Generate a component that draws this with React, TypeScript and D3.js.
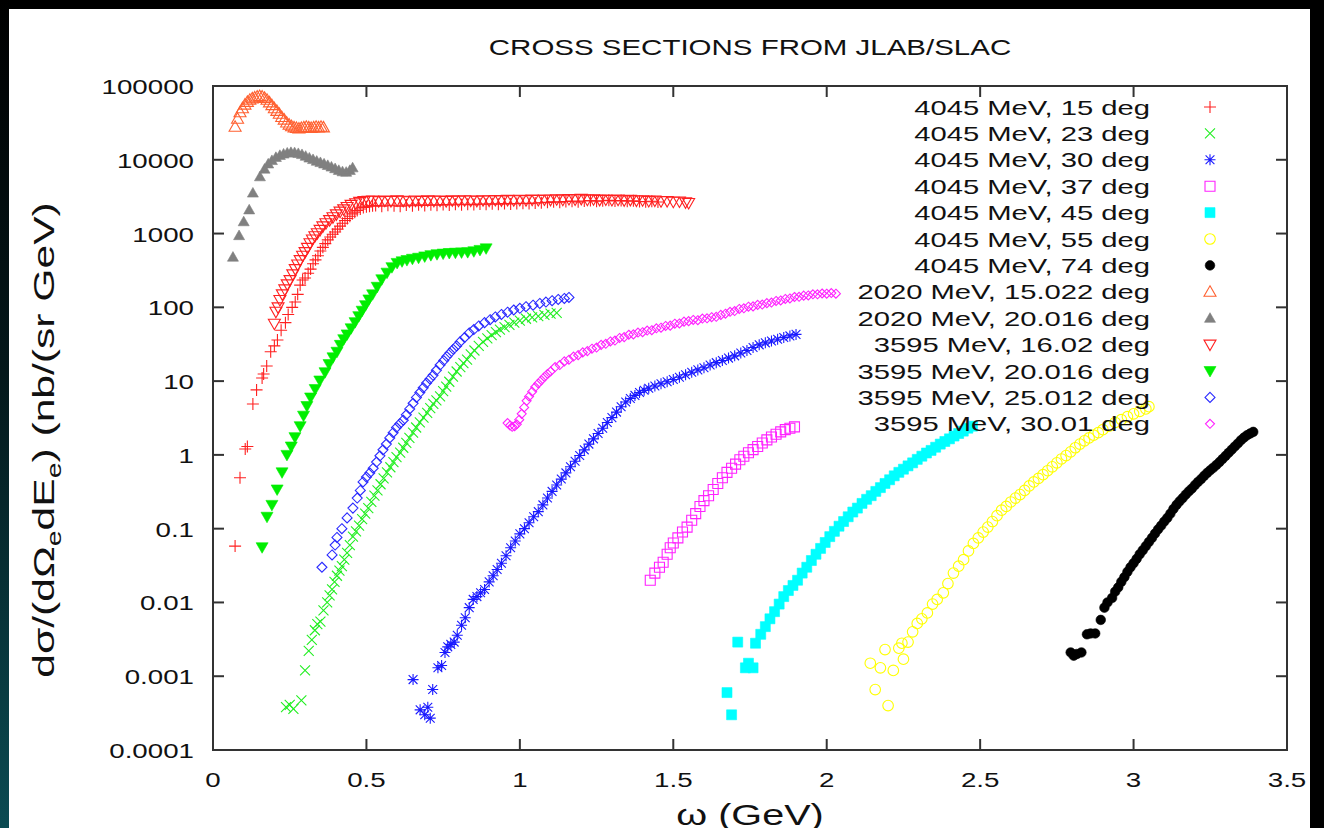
import React from "react";
import * as d3 from "d3";

type Pt = [number, number];

// ---- data: [omega (GeV), d2sigma/dOmega dE (nb/(sr GeV))] ----
const e4045_15: Pt[] = [
  [0.072, 0.058], [0.088, 0.49], [0.105, 1.2], [0.112, 1.3], [0.13, 4.9], [0.142, 7.6], [0.16, 11], [0.165, 12.5],
  [0.175, 16], [0.188, 25], [0.2, 30], [0.21, 36], [0.222, 49], [0.236, 62], [0.245, 80], [0.258, 100], [0.268, 118],
  [0.276, 150], [0.284, 200], [0.292, 235], [0.3, 250], [0.31, 290], [0.318, 330], [0.326, 390], [0.334, 440],
  [0.342, 500], [0.35, 580], [0.358, 650], [0.366, 730], [0.374, 820], [0.382, 900], [0.39, 980], [0.398, 1050],
  [0.406, 1150], [0.414, 1260], [0.422, 1380], [0.43, 1500], [0.438, 1600], [0.446, 1720], [0.454, 1850], [0.462, 1950],
  [0.47, 2050], [0.48, 2150], [0.49, 2250], [0.5, 2300], [0.51, 2350], [0.52, 2380], [0.53, 2400], [0.55, 2350],
  [0.57, 2420], [0.59, 2380], [0.61, 2350], [0.63, 2430], [0.65, 2380], [0.67, 2450], [0.69, 2400], [0.71, 2460],
  [0.73, 2420], [0.75, 2480], [0.77, 2440], [0.79, 2500], [0.81, 2460], [0.83, 2500], [0.85, 2470], [0.87, 2520],
  [0.89, 2490], [0.91, 2540], [0.93, 2500], [0.95, 2550], [0.97, 2520], [0.99, 2560], [1.01, 2580], [1.03, 2550],
  [1.05, 2600], [1.07, 2620], [1.09, 2650], [1.11, 2700], [1.13, 2660], [1.15, 2720], [1.17, 2750], [1.19, 2690],
  [1.21, 2760], [1.23, 2800], [1.25, 2740], [1.27, 2780], [1.29, 2820], [1.31, 2760], [1.33, 2800], [1.35, 2750],
  [1.37, 2780], [1.39, 2720], [1.41, 2700], [1.43, 2740], [1.45, 2680],
];

const e4045_23: Pt[] = [
  [0.238, 0.00038], [0.25, 0.00041], [0.262, 0.00036], [0.288, 0.00047], [0.3, 0.0012], [0.312, 0.0022], [0.322, 0.0031],
  [0.332, 0.0042], [0.34, 0.0051], [0.35, 0.0055], [0.36, 0.0078], [0.372, 0.01], [0.38, 0.0125], [0.388, 0.015],
  [0.396, 0.019], [0.404, 0.023], [0.412, 0.027], [0.42, 0.031], [0.428, 0.038], [0.437, 0.047], [0.446, 0.06],
  [0.456, 0.078], [0.466, 0.092], [0.476, 0.11], [0.486, 0.135], [0.496, 0.16], [0.506, 0.19], [0.516, 0.23],
  [0.526, 0.28], [0.536, 0.33], [0.546, 0.4], [0.556, 0.48], [0.567, 0.58], [0.578, 0.68], [0.588, 0.8], [0.598, 0.93],
  [0.61, 1.07], [0.62, 1.25], [0.63, 1.45], [0.64, 1.7], [0.652, 2.0], [0.662, 2.35], [0.674, 2.75], [0.686, 3.2],
  [0.698, 3.7], [0.708, 4.3], [0.718, 4.9], [0.728, 5.5], [0.74, 6.2], [0.75, 7.3], [0.76, 8.4], [0.77, 9.8],
  [0.782, 11.5], [0.794, 13.5], [0.806, 15.5], [0.816, 17.5], [0.828, 19.5], [0.84, 23], [0.852, 26], [0.866, 30],
  [0.88, 34], [0.894, 38], [0.908, 42], [0.922, 46], [0.935, 50], [0.95, 54], [0.966, 58], [0.982, 62], [1.0, 66],
  [1.02, 70], [1.04, 73], [1.06, 76], [1.08, 79], [1.1, 82], [1.12, 84],
];

const e4045_30: Pt[] = [
  [0.652, 0.0009], [0.675, 0.00035], [0.69, 0.0003], [0.7, 0.00038], [0.708, 0.00027], [0.716, 0.00066], [0.733, 0.0013],
  [0.745, 0.0014], [0.756, 0.0021], [0.765, 0.0025], [0.775, 0.0027], [0.786, 0.0029], [0.796, 0.0036], [0.81, 0.0049],
  [0.822, 0.0062], [0.835, 0.0085], [0.848, 0.011], [0.86, 0.012], [0.872, 0.0135], [0.885, 0.015], [0.9, 0.019],
  [0.913, 0.023], [0.926, 0.028], [0.94, 0.034], [0.955, 0.043], [0.97, 0.055], [0.985, 0.068], [1.0, 0.085],
  [1.015, 0.1], [1.03, 0.12], [1.045, 0.145], [1.06, 0.17], [1.075, 0.21], [1.09, 0.26], [1.105, 0.32], [1.12, 0.39],
  [1.135, 0.47], [1.15, 0.57], [1.165, 0.69], [1.18, 0.82], [1.195, 0.98], [1.21, 1.17], [1.225, 1.4], [1.24, 1.65],
  [1.255, 1.95], [1.27, 2.3], [1.285, 2.75], [1.3, 3.2], [1.315, 3.8], [1.33, 4.5], [1.345, 5.2], [1.36, 5.8],
  [1.375, 6.4], [1.39, 7.0], [1.405, 7.5], [1.42, 8.0], [1.44, 8.6], [1.46, 9.2], [1.48, 9.8], [1.5, 10.5],
  [1.52, 11.3], [1.54, 12.2], [1.56, 13.2], [1.58, 14.2], [1.6, 15.2], [1.62, 16.5], [1.64, 17.8], [1.66, 19],
  [1.68, 20.5], [1.7, 22], [1.72, 24], [1.74, 26], [1.76, 28.5], [1.78, 31], [1.8, 33], [1.82, 35], [1.84, 37],
  [1.86, 39], [1.88, 41], [1.9, 43],
];

const e4045_37: Pt[] = [
  [1.425, 0.02], [1.44, 0.025], [1.455, 0.03], [1.467, 0.035], [1.48, 0.045], [1.49, 0.055], [1.5, 0.064], [1.515, 0.075],
  [1.53, 0.09], [1.545, 0.105], [1.56, 0.13], [1.573, 0.16], [1.587, 0.2], [1.6, 0.24], [1.615, 0.28], [1.63, 0.34],
  [1.645, 0.41], [1.66, 0.49], [1.675, 0.58], [1.69, 0.66], [1.703, 0.75], [1.717, 0.86], [1.73, 0.96], [1.745, 1.07],
  [1.76, 1.18], [1.775, 1.3], [1.79, 1.45], [1.805, 1.6], [1.82, 1.75], [1.835, 1.9], [1.85, 2.05], [1.865, 2.2],
  [1.88, 2.3], [1.895, 2.4],
];

const e4045_45: Pt[] = [
  [1.69, 0.0003], [1.675, 0.0006], [1.71, 0.0029], [1.735, 0.0013], [1.745, 0.0015], [1.76, 0.0013], [1.768, 0.0028],
  [1.785, 0.0037], [1.8, 0.0047], [1.815, 0.006], [1.83, 0.0075], [1.845, 0.0095], [1.86, 0.012], [1.875, 0.0145],
  [1.89, 0.017], [1.905, 0.02], [1.92, 0.025], [1.935, 0.03], [1.95, 0.037], [1.965, 0.045], [1.98, 0.054],
  [1.995, 0.065], [2.01, 0.078], [2.025, 0.092], [2.04, 0.108], [2.055, 0.125], [2.07, 0.145], [2.085, 0.168],
  [2.1, 0.19], [2.115, 0.22], [2.13, 0.25], [2.145, 0.28], [2.16, 0.32], [2.175, 0.36], [2.19, 0.41], [2.205, 0.46],
  [2.22, 0.52], [2.235, 0.58], [2.25, 0.64], [2.265, 0.71], [2.28, 0.78], [2.295, 0.87], [2.31, 0.96], [2.325, 1.06],
  [2.34, 1.15], [2.355, 1.27], [2.37, 1.4], [2.385, 1.52], [2.4, 1.65], [2.415, 1.8], [2.43, 1.95], [2.445, 2.1],
  [2.46, 2.3], [2.475, 2.45],
];

const e4045_55: Pt[] = [
  [2.2, 0.0004], [2.158, 0.00066], [2.142, 0.0015], [2.175, 0.0013], [2.217, 0.0012], [2.19, 0.0023], [2.235, 0.0024],
  [2.25, 0.0017], [2.245, 0.0028], [2.265, 0.0029], [2.28, 0.004], [2.295, 0.0052], [2.31, 0.006], [2.328, 0.0072],
  [2.345, 0.0095], [2.36, 0.011], [2.38, 0.0135], [2.395, 0.018], [2.413, 0.025], [2.43, 0.031], [2.446, 0.038],
  [2.462, 0.05], [2.478, 0.063], [2.494, 0.075], [2.51, 0.09], [2.525, 0.105], [2.54, 0.125], [2.555, 0.15],
  [2.57, 0.178], [2.585, 0.2], [2.6, 0.23], [2.615, 0.26], [2.63, 0.29], [2.645, 0.33], [2.66, 0.38], [2.675, 0.43],
  [2.69, 0.48], [2.705, 0.54], [2.72, 0.61], [2.735, 0.69], [2.75, 0.78], [2.765, 0.88], [2.78, 0.98], [2.795, 1.1],
  [2.81, 1.25], [2.825, 1.4], [2.84, 1.55], [2.855, 1.7], [2.87, 1.85], [2.885, 2.0], [2.9, 2.2], [2.92, 2.45],
  [2.94, 2.75], [2.96, 3.0], [2.98, 3.3], [3.0, 3.6], [3.02, 3.9], [3.04, 4.2], [3.05, 4.5],
];

const e4045_74: Pt[] = [
  [2.795, 0.0021], [2.805, 0.0019], [2.815, 0.002], [2.83, 0.0021], [2.848, 0.0037], [2.86, 0.0038], [2.875, 0.0038],
  [2.893, 0.0058], [2.905, 0.0085], [2.915, 0.01], [2.93, 0.0115], [2.94, 0.014], [2.95, 0.016], [2.96, 0.019],
  [2.97, 0.022], [2.98, 0.026], [2.99, 0.03], [3.0, 0.034], [3.01, 0.039], [3.02, 0.045], [3.03, 0.051], [3.04, 0.058],
  [3.05, 0.066], [3.06, 0.075], [3.07, 0.086], [3.08, 0.098], [3.09, 0.11], [3.1, 0.125], [3.11, 0.14], [3.12, 0.16],
  [3.13, 0.185], [3.14, 0.21], [3.15, 0.235], [3.16, 0.26], [3.17, 0.29], [3.18, 0.32], [3.19, 0.35], [3.2, 0.39],
  [3.21, 0.43], [3.22, 0.47], [3.23, 0.52], [3.24, 0.57], [3.25, 0.62], [3.26, 0.67], [3.27, 0.73], [3.28, 0.8],
  [3.29, 0.88], [3.3, 0.97], [3.31, 1.07], [3.32, 1.18], [3.33, 1.3], [3.34, 1.43], [3.35, 1.58], [3.36, 1.72],
  [3.37, 1.85], [3.38, 1.95], [3.39, 2.05],
];

const e2020_15022: Pt[] = [
  [0.072, 28000], [0.08, 36000], [0.088, 44000], [0.096, 50000], [0.104, 56000], [0.112, 61000], [0.12, 65000],
  [0.128, 68000], [0.136, 70000], [0.144, 72000], [0.152, 73000], [0.16, 72000], [0.168, 69000], [0.176, 65000],
  [0.184, 60000], [0.192, 55000], [0.2, 50000], [0.208, 46000], [0.216, 42000], [0.224, 38000], [0.232, 35000],
  [0.24, 32000], [0.248, 30000], [0.256, 28500], [0.264, 27500], [0.272, 27000], [0.28, 26500], [0.288, 27000],
  [0.296, 27500], [0.304, 28000], [0.312, 27500], [0.32, 27000], [0.328, 27500], [0.336, 28000], [0.344, 27500],
  [0.352, 28000], [0.36, 27500],
];

const e2020_20016: Pt[] = [
  [0.065, 480], [0.085, 940], [0.1, 1450], [0.118, 2100], [0.13, 3550], [0.153, 5900], [0.168, 7500], [0.18, 8800],
  [0.192, 9800], [0.205, 10800], [0.218, 11500], [0.23, 12000], [0.242, 12400], [0.254, 12600], [0.266, 12500],
  [0.278, 12200], [0.29, 11800], [0.302, 11200], [0.314, 10600], [0.326, 10100], [0.338, 9600], [0.35, 9200],
  [0.362, 8800], [0.374, 8400], [0.386, 8000], [0.398, 7600], [0.41, 7200], [0.422, 6900], [0.434, 6800],
  [0.446, 7200], [0.455, 7800],
];

const e3595_1602: Pt[] = [
  [0.2, 60], [0.205, 87], [0.212, 100], [0.218, 126], [0.226, 150], [0.234, 175], [0.242, 205], [0.251, 234],
  [0.26, 280], [0.268, 330], [0.276, 380], [0.284, 437], [0.292, 500], [0.3, 560], [0.308, 640], [0.316, 740],
  [0.324, 830], [0.332, 920], [0.34, 1010], [0.349, 1120], [0.358, 1250], [0.368, 1380], [0.38, 1520], [0.391, 1660],
  [0.402, 1820], [0.414, 1980], [0.426, 2130], [0.437, 2290], [0.45, 2450], [0.465, 2580], [0.478, 2690],
  [0.492, 2750], [0.506, 2780], [0.52, 2800], [0.54, 2750], [0.56, 2800], [0.58, 2760], [0.6, 2820], [0.62, 2780],
  [0.64, 2740], [0.66, 2800], [0.68, 2760], [0.7, 2820], [0.72, 2780], [0.74, 2800], [0.76, 2760], [0.78, 2820],
  [0.8, 2790], [0.82, 2830], [0.84, 2800], [0.86, 2780], [0.88, 2830], [0.9, 2800], [0.92, 2850], [0.94, 2820],
  [0.96, 2860], [0.98, 2830], [1.0, 2870], [1.02, 2840], [1.04, 2880], [1.06, 2850], [1.08, 2900], [1.1, 2870],
  [1.12, 2920], [1.14, 2880], [1.16, 2940], [1.18, 2900], [1.2, 2950], [1.22, 2880], [1.24, 2920], [1.26, 2860],
  [1.28, 2900], [1.3, 2850], [1.32, 2880], [1.34, 2820], [1.36, 2860], [1.38, 2800], [1.4, 2830], [1.42, 2770],
  [1.44, 2800], [1.46, 2740], [1.48, 2760], [1.5, 2700], [1.52, 2720], [1.54, 2650], [1.55, 2600],
];

const e3595_20016: Pt[] = [
  [0.16, 0.056], [0.176, 0.145], [0.192, 0.21], [0.209, 0.34], [0.225, 0.58], [0.241, 1.0], [0.255, 1.3],
  [0.267, 1.74], [0.284, 2.45], [0.295, 3.4], [0.306, 4.6], [0.318, 6.0], [0.333, 7.8], [0.348, 10.2], [0.365, 13.2],
  [0.378, 17], [0.391, 21], [0.404, 25], [0.415, 31], [0.426, 37], [0.437, 43], [0.45, 52], [0.463, 63], [0.475, 76],
  [0.486, 90], [0.497, 107], [0.508, 128], [0.52, 150], [0.535, 190], [0.55, 240], [0.567, 295], [0.583, 350],
  [0.6, 400], [0.616, 420], [0.632, 437], [0.65, 455], [0.67, 470], [0.69, 490], [0.71, 510], [0.73, 525],
  [0.75, 535], [0.77, 545], [0.79, 550], [0.81, 555], [0.83, 560], [0.85, 575], [0.87, 600], [0.89, 630],
];

const e3595_25012: Pt[] = [
  [0.355, 0.03], [0.388, 0.044], [0.398, 0.06], [0.404, 0.076], [0.42, 0.1], [0.437, 0.14], [0.456, 0.19],
  [0.47, 0.26], [0.48, 0.33], [0.489, 0.43], [0.5, 0.5], [0.511, 0.57], [0.522, 0.66], [0.533, 0.8], [0.544, 0.97],
  [0.554, 1.17], [0.565, 1.4], [0.576, 1.7], [0.587, 2.0], [0.598, 2.35], [0.609, 2.65], [0.62, 2.95], [0.63, 3.5],
  [0.641, 4.2], [0.652, 5.0], [0.663, 6.0], [0.674, 7.0], [0.685, 8.1], [0.696, 9.4], [0.707, 10.7], [0.717, 12],
  [0.728, 14], [0.74, 16.5], [0.752, 19], [0.762, 21.5], [0.772, 24], [0.783, 27], [0.794, 30], [0.805, 34],
  [0.82, 39], [0.835, 45], [0.85, 50], [0.866, 56], [0.885, 62], [0.903, 68], [0.92, 74], [0.94, 80], [0.96, 86],
  [0.98, 92], [1.0, 97], [1.02, 102], [1.043, 107], [1.065, 113], [1.085, 118], [1.105, 123], [1.125, 128],
  [1.145, 132], [1.16, 136],
];

const e3595_3001: Pt[] = [
  [0.96, 2.7], [0.968, 2.5], [0.975, 2.4], [0.983, 2.45], [0.99, 2.6], [0.998, 3.0], [1.006, 3.6], [1.014, 4.4],
  [1.022, 5.4], [1.03, 6.2], [1.04, 7.2], [1.05, 8.3], [1.06, 9.3], [1.07, 10.3], [1.08, 11.4], [1.09, 12.5],
  [1.1, 13.5], [1.115, 15.5], [1.13, 16.5], [1.145, 18.5], [1.16, 19.5], [1.175, 21.5], [1.19, 22.5], [1.205, 24.5],
  [1.22, 25.5], [1.235, 27.5], [1.25, 28.5], [1.265, 31], [1.28, 32], [1.295, 34.5], [1.31, 35.5], [1.325, 38.5],
  [1.34, 39.5], [1.355, 42.5], [1.37, 43], [1.385, 45.5], [1.4, 46], [1.415, 48.5], [1.43, 49], [1.445, 52],
  [1.46, 53], [1.475, 56], [1.49, 56.5], [1.505, 60], [1.52, 60.5], [1.535, 64], [1.55, 65], [1.565, 67.5],
  [1.58, 67], [1.595, 70.5], [1.61, 71], [1.625, 73.5], [1.64, 74.5], [1.655, 79], [1.67, 82], [1.685, 87],
  [1.7, 89], [1.715, 95], [1.73, 97], [1.745, 102], [1.76, 103], [1.775, 108], [1.79, 109], [1.805, 114],
  [1.82, 116], [1.835, 122], [1.85, 124], [1.865, 130], [1.88, 132], [1.895, 138], [1.91, 139], [1.925, 144],
  [1.94, 145], [1.955, 150], [1.97, 150], [1.985, 154], [2.0, 153], [2.015, 156], [2.03, 153],
];

// ---- axes ----
const yTickValues = [1e-4, 1e-3, 1e-2, 1e-1, 1, 10, 100, 1000, 10000, 100000];
const yTickLabels = ["0.0001", "0.001", "0.01", "0.1", "1", "10", "100", "1000", "10000", "100000"];
const xTickValues = [0, 0.5, 1, 1.5, 2, 2.5, 3, 3.5];
const xTickLabels = ["0", "0.5", "1", "1.5", "2", "2.5", "3", "3.5"];

const legendLabels = [
  "4045 MeV, 15 deg",
  "4045 MeV, 23 deg",
  "4045 MeV, 30 deg",
  "4045 MeV, 37 deg",
  "4045 MeV, 45 deg",
  "4045 MeV, 55 deg",
  "4045 MeV, 74 deg",
  "2020 MeV, 15.022 deg",
  "2020 MeV, 20.016 deg",
  "3595 MeV, 16.02 deg",
  "3595 MeV, 20.016 deg",
  "3595 MeV, 25.012 deg",
  "3595 MeV, 30.01 deg",
];

type Shape =
  | "plus" | "cross" | "star" | "square" | "squareFill" | "circle" | "circleFill"
  | "triUp" | "triUpFill" | "triDown" | "triDownFill" | "diamond";

interface SeriesStyle { data: Pt[]; color: string; shape: Shape; size: number; }

const seriesStyles: SeriesStyle[] = [
  { data: e4045_15, color: "#ff2020", shape: "plus", size: 6 },
  { data: e4045_23, color: "#22ee22", shape: "cross", size: 5 },
  { data: e4045_30, color: "#1a1aff", shape: "star", size: 5.5 },
  { data: e4045_37, color: "#ff22ff", shape: "square", size: 5 },
  { data: e4045_45, color: "#00ffff", shape: "squareFill", size: 5 },
  { data: e4045_55, color: "#ffff00", shape: "circle", size: 5.3 },
  { data: e4045_74, color: "#000000", shape: "circleFill", size: 4.8 },
  { data: e2020_15022, color: "#ff6030", shape: "triUp", size: 6 },
  { data: e2020_20016, color: "#808080", shape: "triUpFill", size: 5.5 },
  { data: e3595_1602, color: "#ff2020", shape: "triDown", size: 6 },
  { data: e3595_20016, color: "#00ee00", shape: "triDownFill", size: 6 },
  { data: e3595_25012, color: "#2a2aff", shape: "diamond", size: 5 },
  { data: e3595_3001, color: "#ff22ff", shape: "diamond", size: 4.5 },
];

const W = 1324;
const H = 828;
const plot = { left: 213, right: 1287, top: 86, bottom: 750 };

const x = d3.scaleLinear().domain([0, 3.5]).range([plot.left, plot.right]);
const y = d3.scaleLog().domain([1e-4, 1e5]).range([plot.bottom, plot.top]);

function markerPath(shape: Shape, s: number): string {
  switch (shape) {
    case "plus":
      return `M${-s},0H${s}M0,${-s}V${s}`;
    case "cross":
      return `M${-s},${-s}L${s},${s}M${-s},${s}L${s},${-s}`;
    case "star":
      return `M${-s},0H${s}M0,${-s}V${s}M${-s * 0.8},${-s * 0.8}L${s * 0.8},${s * 0.8}M${-s * 0.8},${s * 0.8}L${s * 0.8},${-s * 0.8}`;
    case "square":
    case "squareFill":
      return `M${-s},${-s}H${s}V${s}H${-s}Z`;
    case "circle":
    case "circleFill":
      return `M${s},0A${s},${s} 0 1,1 ${-s},0A${s},${s} 0 1,1 ${s},0Z`;
    case "triUp":
    case "triUpFill":
      return `M0,${-s}L${s},${s * 0.75}L${-s},${s * 0.75}Z`;
    case "triDown":
    case "triDownFill":
      return `M0,${s}L${s},${-s * 0.75}L${-s},${-s * 0.75}Z`;
    case "diamond":
      return `M0,${-s}L${s},0L0,${s}L${-s},0Z`;
  }
}

function isFilled(shape: Shape): boolean {
  return shape === "squareFill" || shape === "circleFill" || shape === "triUpFill" || shape === "triDownFill";
}

function Marker({ cx, cy, st }: { cx: number; cy: number; st: SeriesStyle }) {
  const filled = isFilled(st.shape);
  return (
    <path
      transform={`translate(${cx.toFixed(2)},${cy.toFixed(2)})`}
      d={markerPath(st.shape, st.size)}
      fill={filled ? st.color : "none"}
      stroke={st.color}
      strokeWidth={filled ? 0.6 : 1.1}
    />
  );
}

const FONT = "'Liberation Sans', Arial, Helvetica, sans-serif";

function StretchText({ tx, ty, anchor, size, sx = 1.32, children }: { tx: number; ty: number; anchor: string; size: number; sx?: number; children: React.ReactNode }) {
  return (
    <g transform={`translate(${tx},${ty}) scale(${sx},1)`}>
      <text x={0} y={0} textAnchor={anchor} fontFamily={FONT} fontSize={size} fill="#111">
        {children}
      </text>
    </g>
  );
}

export default function App() {
  const legendTop = 107;
  const legendStep = 26.4;
  return (
    <svg width={W} height={H} style={{ position: "absolute", left: 0, top: 0, display: "block" }}>
      <defs>
        <linearGradient id="edge" x1="0" y1="0" x2="0" y2="1">
          <stop offset="0" stopColor="#000000" />
          <stop offset="0.45" stopColor="#04181b" />
          <stop offset="1" stopColor="#0b4b52" />
        </linearGradient>
      </defs>
      <rect x={0} y={0} width={W} height={H} fill="#000" />
      <rect x={0} y={0} width={10} height={H} fill="url(#edge)" />
      <rect x={9} y={9} width={1301} height={H - 9} fill="#fff" />

      {/* title */}
      <StretchText tx={750} ty={55} anchor="middle" size={22} sx={1.34}>CROSS SECTIONS FROM JLAB/SLAC</StretchText>

      {/* data points */}
      <g>
        {seriesStyles.map((st, i) => (
          <g key={i}>
            {st.data.map((p, j) => (
              <Marker key={j} cx={x(p[0])} cy={y(p[1])} st={st} />
            ))}
          </g>
        ))}
      </g>

      {/* frame and ticks */}
      <g stroke="#333" strokeWidth={2} fill="none">
        <rect x={plot.left} y={plot.top} width={plot.right - plot.left} height={plot.bottom - plot.top} />
        {yTickValues.map((v, i) => (
          <g key={`yt${i}`}>
            <line x1={plot.left} x2={plot.left + 11} y1={y(v)} y2={y(v)} />
            <line x1={plot.right} x2={plot.right - 11} y1={y(v)} y2={y(v)} />
          </g>
        ))}
        {xTickValues.map((v, i) => (
          <g key={`xt${i}`}>
            <line x1={x(v)} x2={x(v)} y1={plot.bottom} y2={plot.bottom - 11} />
            <line x1={x(v)} x2={x(v)} y1={plot.top} y2={plot.top + 11} />
          </g>
        ))}
      </g>

      {/* tick labels */}
      {yTickValues.map((v, i) => (
        <StretchText key={`yl${i}`} tx={194} ty={y(v) + 8} anchor="end" size={21}>{yTickLabels[i]}</StretchText>
      ))}
      {xTickValues.map((v, i) => (
        <StretchText key={`xl${i}`} tx={x(v)} ty={787} anchor="middle" size={21}>{xTickLabels[i]}</StretchText>
      ))}

      {/* axis titles */}
      <g transform={`translate(54,440) rotate(-90) scale(1.42,1)`}>
        <text x={0} y={0} textAnchor="middle" fontFamily={FONT} fontSize={30} fill="#111">
          dσ/(dΩ<tspan fontSize={20} dy={7}>e</tspan><tspan dy={-7}>dE</tspan><tspan fontSize={20} dy={7}>e</tspan><tspan dy={-7}>) (nb/(sr GeV)</tspan>
        </text>
      </g>
      <StretchText tx={750} ty={825} anchor="middle" size={30}>ω (GeV)</StretchText>

      {/* legend */}
      {legendLabels.map((lab, i) => {
        const cy = legendTop + i * legendStep;
        return (
          <g key={`lg${i}`}>
            <StretchText tx={1150} ty={cy + 7.5} anchor="end" size={21} sx={1.39}>{lab}</StretchText>
            <Marker cx={1210} cy={cy} st={seriesStyles[i]} />
          </g>
        );
      })}
    </svg>
  );
}
